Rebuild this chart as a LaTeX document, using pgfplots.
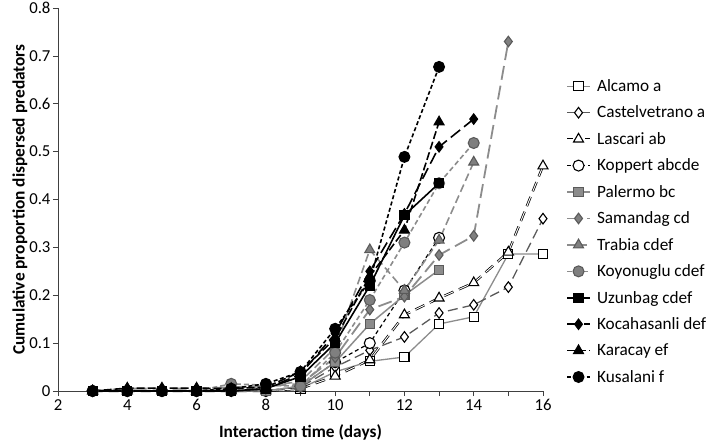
\documentclass[border=0pt]{standalone}
\usepackage{fontspec}
\setmainfont{Carlito}
\usepackage{pgfplots}
\pgfplotsset{compat=1.18}
\definecolor{lgray}{HTML}{8C8C8C}
\definecolor{mgray}{HTML}{7F7F7F}
\definecolor{dgray}{HTML}{5A5A5A}
\pgfplotsset{
  doubledash legend/.style={
    legend image code/.code={
      \draw[black, line width=2.4pt, dash pattern=on 6bp off 3bp] (0cm,0cm)--(0.8cm,0cm);
      \draw[white, line width=0.9pt, dash pattern=on 6bp off 3bp] (0cm,0cm)--(0.8cm,0cm);
      \draw[##1] plot coordinates {(0.4cm,0cm)};}
  }
}
\begin{document}
\begin{tikzpicture}
\useasboundingbox (-58bp,-53bp) rectangle (651bp,391bp);
\begin{axis}[
  scale only axis, width=485bp, height=383bp,
  xmin=2, xmax=16, ymin=0, ymax=0.8,
  axis x line*=bottom, axis y line*=left,
  axis line style={black!75, line width=0.6pt},
  tick align=outside, major tick length=5bp, minor tick length=5bp,
  tick style={black!75, line width=0.6pt},
  xtick={2,4,...,16}, minor xtick={3,5,...,15},
  ytick={0,0.1,...,0.8},
  yticklabels={0,0.1,0.2,0.3,0.4,0.5,0.6,0.7,0.8},
  /pgf/number format/assume math mode=true,
  tick label style={font=\fontsize{16.8}{19}\selectfont},
  yticklabel style={xshift=1bp},
  xlabel={Interaction time (days)},
  ylabel={Cumulative proportion dispersed predators},
  every axis x label/.style={at={(axis description cs:0.5,0)}, anchor=center, yshift=-41bp,
    font=\bfseries\fontsize{17.4}{20}\selectfont},
  every axis y label/.style={at={(axis description cs:-0.0784,0.5)}, rotate=90, anchor=center,
    font=\bfseries\fontsize{17.4}{20}\selectfont},
  legend cell align=left,
  legend style={draw=none, fill=none, at={(1.047,0.819)}, anchor=north west,
    font=\fontsize{17.3}{20}\selectfont, row sep=9bp, inner sep=0pt,
    nodes={inner xsep=6bp}},
  legend image code/.code={\draw[mark repeat=2,mark phase=2,#1] plot coordinates {(0cm,0cm) (0.4cm,0cm) (0.8cm,0cm)};},
  clip=false,
]
% Alcamo a
\addplot[lgray, line width=1.3pt, mark=square*, mark size=4.6pt,
  mark options={solid, draw=black, fill=white, line width=1.1pt}] coordinates {
  (3,0) (4,0) (5,0) (6,0) (7,0) (8,0) (9,0.005) (10,0.04) (11,0.062) (12,0.071) (13,0.14) (14,0.155) (15,0.286) (16,0.286)};
\addlegendentry{Alcamo a}
% Castelvetrano a
\addplot[dgray, line width=1.3pt, dash pattern=on 10bp off 5bp, mark=diamond*, mark size=5.3pt,
  mark options={solid, draw=black, fill=white, line width=1.1pt}] coordinates {
  (3,0) (4,0) (5,0) (6,0) (7,0) (8,0) (9,0.008) (10,0.05) (11,0.085) (12,0.113) (13,0.163) (14,0.18) (15,0.217) (16,0.36)};
\addlegendentry{Castelvetrano a}
% Lascari ab (double dashed line)
\addplot[black, line width=2.4pt, dash pattern=on 10bp off 6bp, forget plot] coordinates {
  (3,0) (4,0) (5,0) (6,0) (7,0) (8,0) (9,0.005) (10,0.031) (11,0.065) (12,0.159) (13,0.194) (14,0.226) (15,0.29) (16,0.47)};
\addplot[white, line width=0.9pt, dash pattern=on 10bp off 6bp, forget plot] coordinates {
  (3,0) (4,0) (5,0) (6,0) (7,0) (8,0) (9,0.005) (10,0.031) (11,0.065) (12,0.159) (13,0.194) (14,0.226) (15,0.29) (16,0.47)};
\addplot[only marks, mark=triangle*, mark size=5.8pt,
  mark options={solid, draw=black, fill=white, line width=1.1pt}, doubledash legend] coordinates {
  (3,0) (4,0) (5,0) (6,0) (7,0) (8,0) (9,0.005) (10,0.031) (11,0.065) (12,0.159) (13,0.194) (14,0.226) (15,0.29) (16,0.47)};
\addlegendentry{Lascari ab}
% Koppert abcde
\addplot[black, line width=1.2pt, dash pattern=on 4bp off 3bp, mark=*, mark size=5.5pt,
  mark options={solid, draw=black, fill=white, line width=1.1pt}] coordinates {
  (3,0) (4,0) (5,0) (6,0) (7,0) (8,0) (9,0.01) (10,0.06) (11,0.1) (12,0.21) (13,0.32)};
\addlegendentry{Koppert abcde}
% Palermo bc
\addplot[lgray, line width=1.5pt, mark=square*, mark size=4.6pt,
  mark options={solid, draw=dgray, fill=lgray, line width=1.1pt}] coordinates {
  (3,0) (4,0) (5,0) (6,0) (7,0) (8,0) (9,0.01) (10,0.06) (11,0.14) (12,0.2) (13,0.253)};
\addlegendentry{Palermo bc}
% Samandag cd
\addplot[lgray, line width=1.8pt, dash pattern=on 14bp off 6bp, mark=diamond*, mark size=5.3pt,
  mark options={solid, draw=dgray, fill=mgray, line width=1.1pt}] coordinates {
  (3,0) (4,0.005) (5,0.005) (6,0.005) (7,0.008) (8,0.01) (9,0.015) (10,0.07) (11,0.17) (12,0.197) (13,0.284) (14,0.324) (15,0.73)};
\addlegendentry{Samandag cd}
% Trabia cdef
\addplot[lgray, line width=1.6pt, dash pattern=on 8bp off 4bp, mark=triangle*, mark size=5.8pt,
  mark options={solid, draw=dgray, fill=mgray, line width=1.1pt}] coordinates {
  (3,0) (4,0) (5,0) (6,0) (7,0.005) (8,0.01) (9,0.02) (10,0.09) (11,0.295) (12,0.21) (13,0.315) (14,0.478)};
\addlegendentry{Trabia cdef}
% Koyonuglu cdef
\addplot[lgray, line width=1.6pt, dash pattern=on 5bp off 3bp, mark=*, mark size=5.5pt,
  mark options={solid, draw=dgray, fill=mgray, line width=1.1pt}] coordinates {
  (3,0) (4,0) (5,0) (6,0) (7,0.015) (8,0.012) (9,0.01) (10,0.08) (11,0.19) (12,0.31) (13,0.434) (14,0.518)};
\addlegendentry{Koyonuglu cdef}
% Uzunbag cdef
\addplot[black, line width=1.6pt, mark=square*, mark size=4.6pt,
  mark options={solid, draw=black, fill=black, line width=1pt}] coordinates {
  (3,0) (4,0) (5,0) (6,0) (7,0) (8,0.005) (9,0.03) (10,0.1) (11,0.22) (12,0.367) (13,0.434)};
\addlegendentry{Uzunbag cdef}
% Kocahasanli def
\addplot[black, line width=1.6pt, dash pattern=on 12bp off 5bp, mark=diamond*, mark size=5.3pt,
  mark options={solid, draw=black, fill=black, line width=1pt}] coordinates {
  (3,0) (4,0) (5,0) (6,0) (7,0) (8,0.005) (9,0.035) (10,0.12) (11,0.25) (12,0.37) (13,0.51) (14,0.568)};
\addlegendentry{Kocahasanli def}
% Karacay ef
\addplot[black, line width=1.6pt, dash pattern=on 8bp off 3bp, mark=triangle*, mark size=5.8pt,
  mark options={solid, draw=black, fill=black, line width=1pt}] coordinates {
  (3,0) (4,0.006) (5,0.006) (6,0.006) (7,0.005) (8,0.008) (9,0.04) (10,0.11) (11,0.24) (12,0.336) (13,0.562)};
\addlegendentry{Karacay ef}
% Kusalani f
\addplot[black, line width=1.6pt, dash pattern=on 4bp off 2.5bp, mark=*, mark size=5.5pt,
  mark options={solid, draw=black, fill=black, line width=1pt}] coordinates {
  (3,0) (4,0) (5,0) (6,0) (7,0.005) (8,0.015) (9,0.04) (10,0.13) (11,0.23) (12,0.489) (13,0.677)};
\addlegendentry{Kusalani f}
\end{axis}
\end{tikzpicture}
\end{document}
